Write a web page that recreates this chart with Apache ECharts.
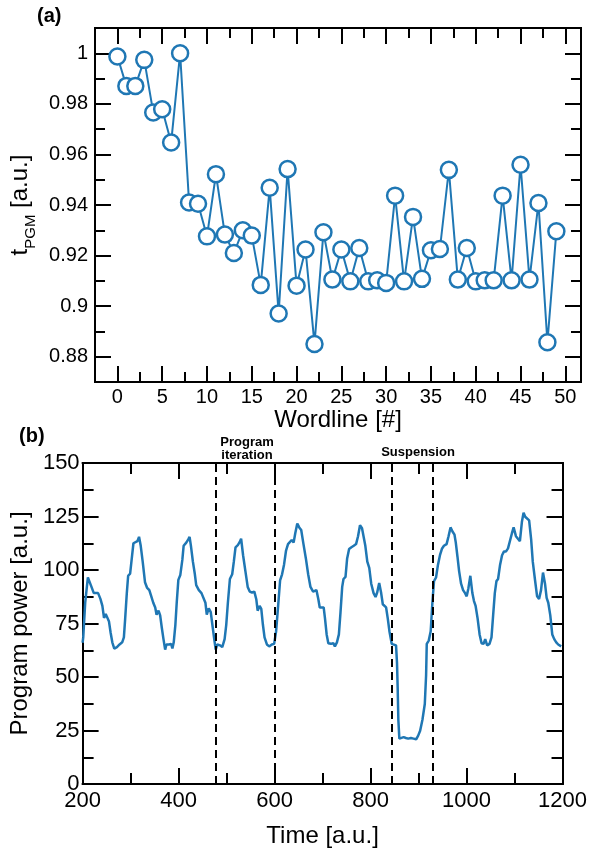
<!DOCTYPE html>
<html>
<head>
<meta charset="utf-8">
<script src="https://cdn.jsdelivr.net/npm/echarts@6/dist/echarts.min.js"></script>
<style>
  html, body { margin: 0; padding: 0; background: #fff; }
  #chart { width: 590px; height: 849px; }
</style>
</head>
<body>
<div id="chart"></div>
<script>
// (a) program time per wordline
const wordlines = Array.from({ length: 50 }, (_, i) => i);
const tPgm = [
  0.9987, 0.9871, 0.9871, 0.9974, 0.9766, 0.9779, 0.9647, 1.0000, 0.9410, 0.9405,
  0.9276, 0.9522, 0.9283, 0.9210, 0.9300, 0.9279, 0.9084, 0.9468, 0.8971, 0.9542,
  0.9081, 0.9224, 0.8850, 0.9292, 0.9105, 0.9224, 0.9098, 0.9230, 0.9098, 0.9102,
  0.9092, 0.9437, 0.9098, 0.9353, 0.9108, 0.9221, 0.9226, 0.9539, 0.9105, 0.9230,
  0.9098, 0.9102, 0.9102, 0.9437, 0.9102, 0.9559, 0.9105, 0.9408, 0.8857, 0.9296
];
const aXTicks = [0, 5, 10, 15, 20, 25, 30, 35, 40, 45, 50];
const aXMinor = [-2.5, 2.5, 7.5, 12.5, 17.5, 22.5, 27.5, 32.5, 37.5, 42.5, 47.5];
const aYTicks = [0.88, 0.9, 0.92, 0.94, 0.96, 0.98, 1];
const aYMinor = [0.87, 0.89, 0.91, 0.93, 0.95, 0.97, 0.99, 1.01];

// (b) program power trace
const times = [
  200, 201.3, 205.4, 211, 213.7, 218.5, 223.3, 227.4, 232.3, 237.1, 241.2, 244.6, 248.1, 251.5, 255, 258.4,
  261.9, 266, 271.5, 277, 282.5, 286, 288.7, 292.1, 294.9, 299, 303.2, 305.9, 310, 314.2, 317.6, 321.1,
  325.2, 330, 334.1, 339, 343.1, 347.2, 351.3, 354.1, 358.2, 361.6, 365.1, 368.5, 372, 374.7, 380.2, 384.4,
  387.1, 389.9, 393.3, 396.1, 399.5, 403.6, 407.8, 410.5, 416, 420.2, 422.9, 425.7, 429.8, 433.9, 436.7, 442.2,
  447.7, 451.8, 455.9, 458.7, 462.8, 467, 470.4, 473.8, 477.3, 480.7, 486.2, 491, 495.9, 499.3, 502.7, 506.9,
  511.7, 515.1, 518.6, 523.4, 527.5, 530.3, 534.4, 539.2, 544, 548.2, 553, 557.8, 562, 564.7, 568.8, 572.3,
  575.7, 579.1, 584, 588.8, 594.3, 599.1, 603.2, 607.4, 611.5, 615.6, 619.7, 623.9, 628, 632.1, 635.6, 639.7,
  643.1, 647.3, 651.4, 655.5, 659.7, 665.2, 670, 674.8, 680.3, 683.8, 687.2, 691.3, 694.1, 698.2, 702.3, 705.1,
  708.5, 712, 717.5, 722.3, 725.7, 729.9, 734, 737.4, 740.9, 743.6, 747.8, 751.2, 755.3, 760.1, 765, 769.8,
  773.9, 778, 782.2, 785.6, 789.1, 793.2, 797.3, 801.4, 806.3, 810.4, 813.8, 818, 822.1, 825.5, 829, 832.4,
  835.9, 839.3, 844.1, 848.2, 853.1, 855.1, 856.5, 857.9, 860, 863.4, 868.9, 873.7, 878.5, 884, 889.5, 895,
  899.2, 903.3, 908.1, 913, 915.7, 917.1, 921.2, 925.3, 928.8, 932.2, 936.4, 940.5, 944.6, 948.7, 952.9, 958.4,
  962.5, 966.6, 970.7, 974.9, 977.6, 981.1, 984.5, 988.6, 992.8, 996.9, 1000.3, 1003.8, 1007.9, 1012.1, 1015.5, 1018.9,
  1023.1, 1027.2, 1031.3, 1035.5, 1038.9, 1043, 1047.8, 1052, 1055.4, 1058.9, 1062.3, 1065.7, 1069.9, 1074, 1078.1, 1082.3,
  1086.4, 1090.5, 1094.6, 1098.1, 1102.9, 1107.1, 1111.2, 1115.3, 1118.8, 1122.2, 1126.3, 1130.4, 1134.6, 1138, 1142.8, 1147,
  1151.1, 1155.2, 1159.3, 1163.5, 1166.9, 1170.3, 1174.5, 1178.6, 1182.7, 1186.9, 1191, 1195.1, 1197.2
];
const power = [
  66, 68.5, 84.7, 96.5, 96.8, 92.1, 89.2, 89.5, 89.2, 86.5, 83.2, 77.6, 79.5, 80, 75.9, 70.7,
  66.2, 63.3, 64, 65.2, 66.2, 68.5, 77.3, 89.2, 97.3, 98.3, 106.9, 112.5, 112.8, 113.5, 115.5, 111.3,
  103.9, 94.3, 91.8, 90.6, 87.7, 84.7, 82.5, 79.1, 81, 78.8, 72.9, 67.7, 62.8, 65.2, 65.2, 65.5,
  63.3, 66.2, 74.4, 84.7, 95.4, 97.7, 104.7, 111.3, 112.8, 114.3, 115.5, 111.3, 103.9, 98, 92.9, 90.6,
  89.2, 88.4, 84.7, 79.1, 82.1, 80.3, 74.4, 68.5, 62.8, 65.2, 64.8, 64, 67.7, 74.4, 84.7, 95.8,
  98, 103.9, 110.6, 111.6, 113.1, 114.6, 106.9, 99.5, 92.1, 89.9, 89.5, 89.9, 86.2, 81, 83.2, 81.8,
  74.4, 68.5, 65.2, 64.3, 65.2, 65.5, 71.4, 83.2, 95.1, 98, 102.5, 109.1, 112.1, 112.8, 114, 112.8,
  117.2, 121.7, 119.9, 118.7, 112.8, 105.4, 98, 92.1, 89.9, 89.2, 90.6, 86.2, 82.5, 83.2, 82.5, 77.3,
  69.9, 65.8, 65.5, 65.8, 64.3, 66.2, 69.9, 80.3, 92.1, 95.8, 96.8, 105.4, 109.8, 110.6, 111.3, 112.1,
  115.8, 120.9, 119.5, 118.7, 111.3, 103.9, 101, 93.6, 89.2, 87.4, 89.5, 93.9, 89.2, 84, 84.7, 82.5,
  77.3, 71.4, 65.5, 65.2, 64.8, 56.6, 44.8, 30, 21.2, 20.4, 21.9, 21.5, 21.2, 21.5, 21.2, 20.9,
  22.6, 24.9, 30, 37.4, 50.7, 65.5, 67, 71.4, 84.7, 94.8, 96.5, 102.5, 106.9, 109.9, 111.3, 112.1,
  115.8, 119.9, 118, 116.5, 112.8, 106.2, 99.5, 93.6, 90.6, 89.2, 87.7, 91.4, 97.3, 89.2, 85.5, 83.2,
  77.3, 69.9, 65.8, 65.5, 67.7, 64.8, 65.5, 68.5, 78.8, 89.2, 94.8, 95.8, 102.5, 106.9, 108.7, 108.7,
  110.1, 109.6, 117.2, 119.9, 115.8, 114.6, 113.5, 122.4, 126.8, 124.9, 125.4, 123.2, 114.3, 103.9, 95.1, 87.7,
  86.5, 90.6, 98.8, 93.6, 87, 84.7, 78.8, 69.9, 67.7, 66.2, 65.2, 65.5, 64.3
];
const phaseLines = [477, 600, 845, 929];
const bXTicks = [200, 400, 600, 800, 1000, 1200];
const bXMinor = [300, 500, 700, 900, 1100];
const bYTicks = [0, 25, 50, 75, 100, 125, 150];
const bYMinor = [12.5, 37.5, 62.5, 87.5, 112.5, 137.5];

const FONT = 'Liberation Sans, Arial, Helvetica, sans-serif';
const BLUE = '#1f77b4';

// one axis on one side of a grid, ticks drawn inside the frame
function axis(grid, position, min, max, ticks, len, label) {
  const a = {
    type: 'value', gridIndex: grid, position, min, max,
    axisLine: { show: true, onZero: false, lineStyle: { color: '#000', width: 2 } },
    axisTick: { show: true, inside: true, length: len, customValues: ticks, lineStyle: { color: '#000', width: 2 } },
    axisLabel: { show: false },
    splitLine: { show: false }
  };
  if (label) Object.assign(a, label);
  return a;
}

const labelStyle = (size, margin, fmt) => ({
  show: true, fontSize: size, color: '#000', fontFamily: FONT, margin, formatter: fmt
});

const chart = echarts.init(document.getElementById('chart'), null, { renderer: 'canvas' });

chart.setOption({
  animation: false,
  backgroundColor: '#fff',
  grid: [
    { left: 95, top: 28, width: 486, height: 354 },
    { left: 81, top: 463, width: 484, height: 338 }
  ],
  xAxis: [
    axis(0, 'bottom', -2.5, 51.75, aXTicks, 16, {
      axisLabel: Object.assign(labelStyle(20, 5, v => String(v)), { customValues: aXTicks }),
      name: 'Wordline [#]', nameLocation: 'middle', nameGap: 25,
      nameTextStyle: { fontSize: 24, fontFamily: FONT, color: '#000' }
    }),
    axis(0, 'bottom', -2.5, 51.75, aXMinor, 10),
    axis(0, 'top', -2.5, 51.75, aXTicks, 16),
    axis(0, 'top', -2.5, 51.75, aXMinor, 10),
    axis(1, 'bottom', 200, 1200, bXTicks, 16, {
      axisLabel: Object.assign(labelStyle(22, 6, v => String(v)), { customValues: bXTicks }),
      name: 'Time [a.u.]', nameLocation: 'middle', nameGap: 40,
      nameTextStyle: { fontSize: 24, fontFamily: FONT, color: '#000' }
    }),
    axis(1, 'bottom', 200, 1200, bXMinor, 11),
    axis(1, 'top', 200, 1200, bXTicks, 16),
    axis(1, 'top', 200, 1200, bXMinor, 11)
  ],
  yAxis: [
    axis(0, 'left', 0.87, 1.01, aYTicks, 16, {
      axisLabel: Object.assign(labelStyle(20, 7, v => String(+v.toFixed(2))), { customValues: aYTicks }),
      name: '{t|t}{s|PGM}{t| [a.u.]}', nameLocation: 'middle', nameGap: 62,
      nameTextStyle: {
        color: '#000', fontFamily: FONT,
        rich: {
          t: { fontSize: 24, fontFamily: FONT, color: '#000', lineHeight: 30, verticalAlign: 'bottom' },
          s: { fontSize: 15, fontFamily: FONT, color: '#000', lineHeight: 30, verticalAlign: 'bottom', padding: [0, 0, -6, 0] }
        }
      }
    }),
    axis(0, 'left', 0.87, 1.01, aYMinor, 10),
    axis(0, 'right', 0.87, 1.01, aYTicks, 16),
    axis(0, 'right', 0.87, 1.01, aYMinor, 10),
    axis(1, 'left', 0, 150, bYTicks, 16, {
      axisLabel: Object.assign(labelStyle(22, 3, v => String(v)), { customValues: bYTicks }),
      name: 'Program power [a.u.]', nameLocation: 'middle', nameGap: 49,
      nameTextStyle: { fontSize: 24, fontFamily: FONT, color: '#000' }
    }),
    axis(1, 'left', 0, 150, bYMinor, 11),
    axis(1, 'right', 0, 150, bYTicks, 16),
    axis(1, 'right', 0, 150, bYMinor, 11)
  ],
  series: [
    {
      type: 'line', xAxisIndex: 0, yAxisIndex: 0,
      data: wordlines.map((w, i) => [w, tPgm[i]]),
      symbol: 'circle', symbolSize: 16, showSymbol: true,
      lineStyle: { color: BLUE, width: 2 },
      itemStyle: { color: '#fff', borderColor: BLUE, borderWidth: 2.5 },
      z: 3
    },
    {
      type: 'line', xAxisIndex: 4, yAxisIndex: 4,
      data: times.map((t, i) => [t, power[i]]),
      showSymbol: false,
      lineStyle: { color: BLUE, width: 2.5 },
      markLine: {
        silent: true, symbol: ['none', 'none'],
        label: { show: false },
        lineStyle: { color: '#000', type: [8, 5], width: 2 },
        data: phaseLines.map(x => ({ xAxis: x }))
      },
      z: 3
    }
  ],
  graphic: [
    { type: 'text', left: 37, top: 6, style: { text: '(a)', font: 'bold 20px ' + FONT, fill: '#000' } },
    { type: 'text', left: 19, top: 426, style: { text: '(b)', font: 'bold 20px ' + FONT, fill: '#000' } },
    { type: 'text', x: 247, y: 436, style: { text: 'Program\niteration', font: 'bold 13px ' + FONT, fill: '#000', align: 'center', lineHeight: 13 } },
    { type: 'text', x: 418, y: 446, style: { text: 'Suspension', font: 'bold 13px ' + FONT, fill: '#000', align: 'center' } }
  ]
});
</script>
</body>
</html>
